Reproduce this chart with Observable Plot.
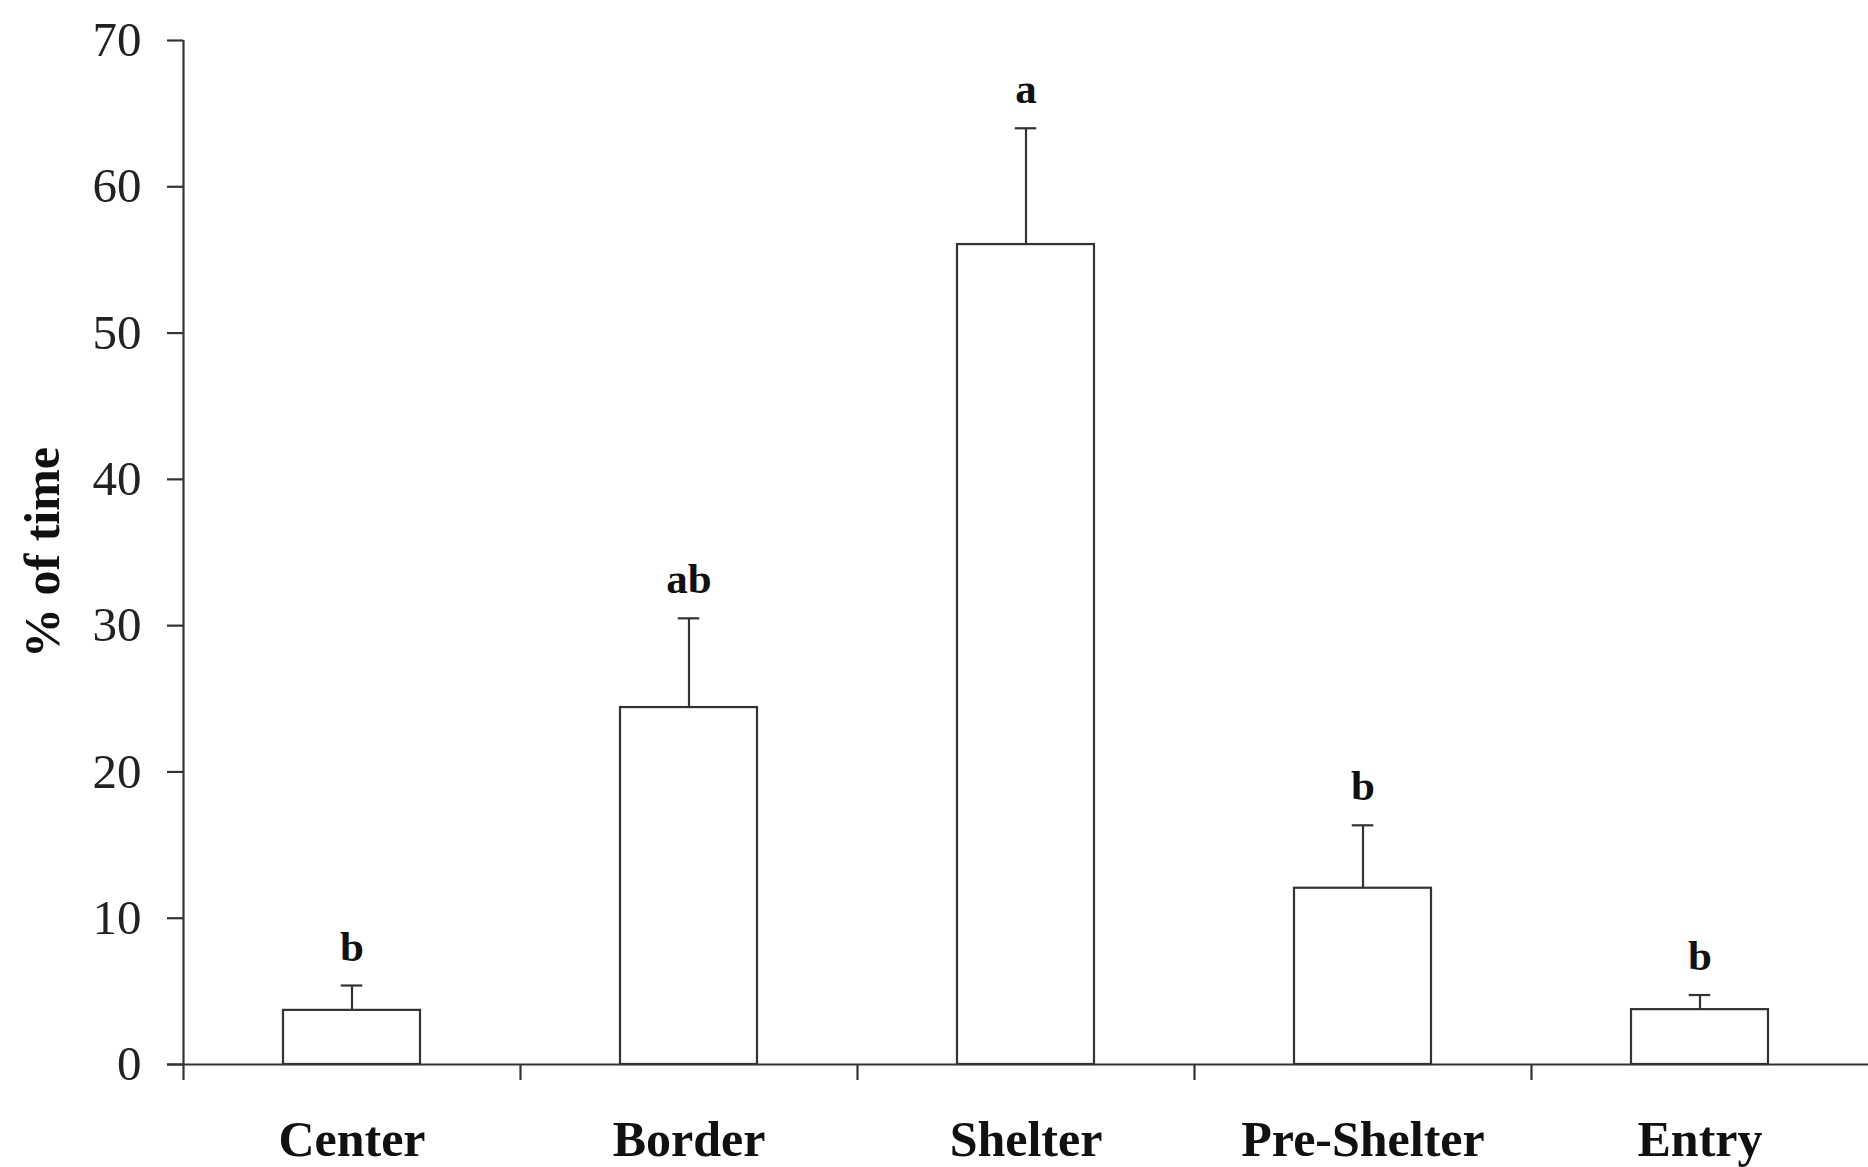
<!DOCTYPE html>
<html>
<head>
<meta charset="utf-8">
<script src="https://cdn.jsdelivr.net/npm/d3@7"></script>
<script src="https://cdn.jsdelivr.net/npm/@observablehq/plot@0.6"></script>
<style>
  html, body { margin: 0; padding: 0; background: #fff; }
</style>
</head>
<body>
<div id="chart"></div>
<script>
// ---- data ----
const categories = ["Center", "Border", "Shelter", "Pre-Shelter", "Entry"];
const means      = [3.7, 24.4, 56.05, 12.05, 3.75];
const errors     = [1.7, 6.1, 7.95, 4.3, 1.0];
const letters    = ["b", "ab", "a", "b", "b"];
const yTicks     = [0, 10, 20, 30, 40, 50, 60, 70];
const yLabel     = "% of time";

const data = categories.map((c, i) => ({category: c, mean: means[i], err: errors[i], top: means[i] + errors[i], letter: letters[i]}));

// ---- layout ----
const W = 1868, H = 1167;
const mL = 183, mR = 0, mT = 40, mB = 103;
const step = (W - mL - mR) / categories.length;
const padIn = 0.592;
const bw = step * (1 - padIn);
const capW = 22;
const capInset = (bw - capW) / 2;
const ink = "#333";
const font = "'Liberation Serif', 'Times New Roman', serif";

const chart = Plot.plot({
  width: W,
  height: H,
  marginLeft: mL,
  marginRight: mR,
  marginTop: mT,
  marginBottom: mB,
  style: {fontFamily: font, color: "#1a1a1a", background: "#fff"},
  x: {domain: categories, paddingInner: padIn, paddingOuter: padIn / 2},
  y: {domain: [0, 70]},
  marks: [
    Plot.barY(data, {x: "category", y: "mean", fill: "#fff", stroke: ink, strokeWidth: 2.2}),
    Plot.ruleX(data, {x: "category", y1: "mean", y2: "top", stroke: ink, strokeWidth: 2.2}),
    Plot.tickY(data, {x: "category", y: "top", stroke: ink, strokeWidth: 2.2, insetLeft: capInset, insetRight: capInset}),
    // axes lines
    Plot.ruleY([0], {stroke: ink, strokeWidth: 2.2, insetLeft: -16}),
    Plot.ruleX([categories[0]], {x: d => d, y1: 0, y2: 70, dx: -step / 2, stroke: ink, strokeWidth: 2.2}),
    Plot.axisX({ticks: categories, tickSize: 16, dx: -step / 2, stroke: ink, strokeWidth: 2.2, fill: "none", tickFormat: () => "", label: null}),
    Plot.axisX({ticks: categories, tickSize: 0, tickPadding: 56, fontSize: 50, fontWeight: "bold", fill: "#111", label: null}),
    Plot.axisY({ticks: yTicks, tickSize: 16, tickPadding: 26, fontSize: 49, stroke: ink, strokeWidth: 2.2, fill: "#222", label: null}),
    Plot.text([yLabel], {frameAnchor: "left", textAnchor: "middle", dx: -141, rotate: -90, fontSize: 50, fontWeight: "bold", fill: "#111"}),
    Plot.text(data, {x: "category", y: "top", text: "letter", dy: -25, lineAnchor: "bottom", fontSize: 43, fontWeight: "bold", fill: "#111"})
  ]
});
document.getElementById("chart").appendChild(chart);
</script>
</body>
</html>
